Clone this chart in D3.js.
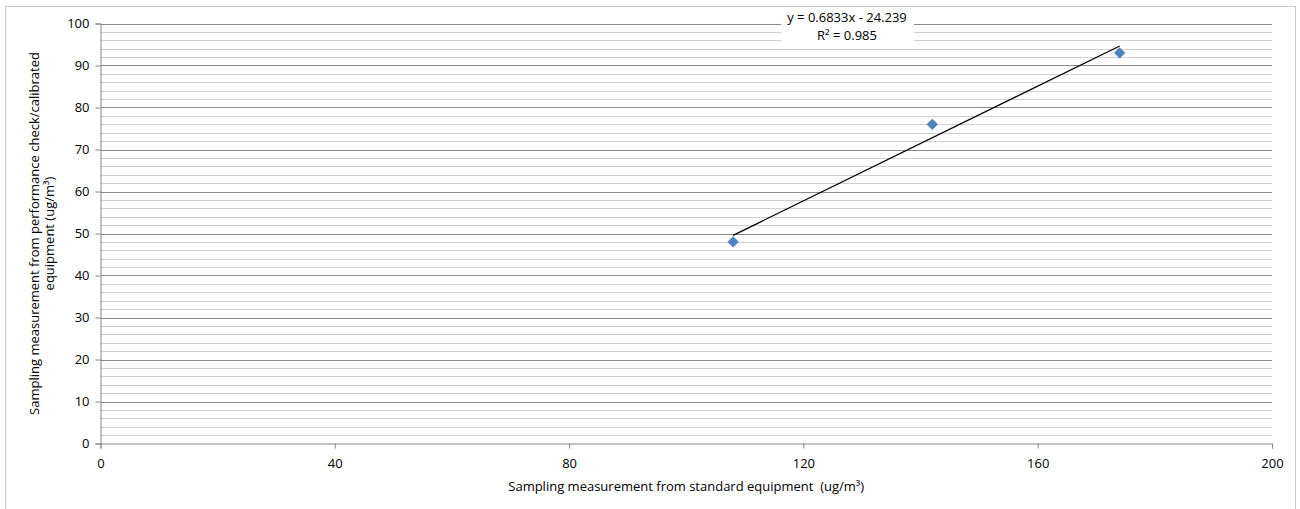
<!DOCTYPE html>
<html><head><meta charset="utf-8">
<script src="https://cdn.jsdelivr.net/npm/d3@7"></script>
<style>
body{margin:0;background:#fff;}
svg{display:block;font-family:"Open Sans","Liberation Sans",sans-serif;}
</style></head>
<body>
<script>
const xValues = [108, 142, 174];
const yValues = [48, 76, 93];
const xTicks = [0, 40, 80, 120, 160, 200];
const yTicks = [0, 10, 20, 30, 40, 50, 60, 70, 80, 90, 100];
const trendSlope = 0.6833, trendIntercept = -24.239;
const eqLabels = ["y = 0.6833x - 24.239", "R² = 0.985"];
const xTitle = "Sampling measurement from standard equipment  (ug/m³)";
const yTitleLines = ["Sampling measurement from performance check/calibrated", "equipment (ug/m³)"];

const W = 1300, H = 509;
const svg = d3.select("body").append("svg").attr("width", W).attr("height", H);
svg.append("rect").attr("x",5.5).attr("y",6.5).attr("width",1290).attr("height",503).attr("fill","#fff").attr("stroke","#c8c8c8");

const x = d3.scaleLinear().domain([0,200]).range([100.5,1272]);
const y = d3.scaleLinear().domain([0,100]).range([443.5,23.5]);

// minor gridlines
const minor = d3.range(0,101,2).filter(v=>v%10!==0);
svg.append("g").selectAll("line").data(minor).join("line")
  .attr("x1",x(0)).attr("x2",x(200)).attr("y1",d=>Math.round(y(d))+0.5).attr("y2",d=>Math.round(y(d))+0.5)
  .attr("stroke","#d0d0d0").attr("stroke-width",1);
svg.append("g").selectAll("line").data(yTicks.filter(v=>v>0)).join("line")
  .attr("x1",x(0)).attr("x2",x(200)).attr("y1",d=>Math.round(y(d))+0.5).attr("y2",d=>Math.round(y(d))+0.5)
  .attr("stroke","#8c8c8c").attr("stroke-width",1);

const fs = "13px";
// y axis
const yAxis = svg.append("g").attr("transform",`translate(${x(0)},0)`)
  .call(d3.axisLeft(y).tickValues(yTicks).tickSize(5).tickPadding(6).tickFormat(d3.format("d")));
// x axis
const xAxis = svg.append("g").attr("transform",`translate(0,${y(0)})`)
  .call(d3.axisBottom(x).tickValues(xTicks).tickSize(5).tickPadding(10).tickFormat(d3.format("d")));
[yAxis,xAxis].forEach(a=>{
  a.selectAll("path").attr("stroke","#868686");
  a.selectAll("line").attr("stroke","#868686");
  a.selectAll("text").attr("fill","#000").style("font-size",fs).style("font-family","'Open Sans','Liberation Sans',sans-serif");
});

// trendline
const xs = d3.extent(xValues);
svg.append("line")
  .attr("x1",x(xs[0])).attr("y1",y(trendSlope*xs[0]+trendIntercept))
  .attr("x2",x(xs[1])).attr("y2",y(trendSlope*xs[1]+trendIntercept))
  .attr("stroke","#000").attr("stroke-width",1.2);

// points
svg.append("g").selectAll("path").data(xValues.map((v,i)=>[v,yValues[i]])).join("path")
  .attr("d", d3.symbol().type(d3.symbolDiamond2).size(75))
  .attr("transform", d=>`translate(${x(d[0])},${y(d[1])})`)
  .attr("fill","#4f81bd").attr("stroke","#4f81bd").attr("stroke-width",0.5);

// equation label
svg.append("rect").attr("x",781).attr("y",9).attr("width",133).attr("height",35).attr("fill","#fff");
svg.append("g").selectAll("text").data(eqLabels).join("text")
  .attr("x",847).attr("y",(d,i)=>22+i*18).attr("text-anchor","middle")
  .style("font-size",fs).text(d=>d);

// axis titles
svg.append("text").attr("x",(x(0)+x(200))/2).attr("y",491).attr("text-anchor","middle")
  .style("font-size",fs).style("white-space","pre").text(xTitle);
svg.append("g").attr("transform",`translate(0,${(y(0)+y(100))/2}) rotate(-90)`)
  .selectAll("text").data(yTitleLines).join("text")
  .attr("x",0).attr("y",(d,i)=>39+i*15).attr("text-anchor","middle")
  .style("font-size",fs).text(d=>d);
</script>
</body></html>
